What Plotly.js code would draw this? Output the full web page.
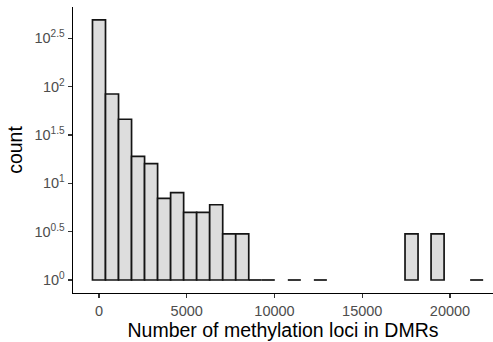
<!DOCTYPE html>
<html>
<head>
<meta charset="utf-8">
<script src="https://cdn.plot.ly/plotly-3.0.1.min.js"></script>
<style>html,body{margin:0;padding:0;background:#fff}#chart{width:493px;height:342px}</style>
</head>
<body>
<div id="chart"></div>
<script>
// Histogram: 30 bins, first bin centred on 0
var binStart = -371;
var binWidth = 742;
var counts = [489, 83, 45, 18, 15, 6, 7, 4, 4, 5, 2, 2, 1, 1, 0, 1, 0, 1, 0, 0, 0, 0, 0, 0, 2, 0, 2, 0, 0, 1];
var xTickVals = [0, 5000, 10000, 15000, 20000];
var xTickText = ["0", "5000", "10000", "15000", "20000"];
var yTickVals = [1, Math.pow(10, 0.5), 10, Math.pow(10, 1.5), 100, Math.pow(10, 2.5)];
var yTickText = ["10<sup>0</sup>", "10<sup>0.5</sup>", "10<sup>1</sup>", "10<sup>1.5</sup>", "10<sup>2</sup>", "10<sup>2.5</sup>"];

var centers = counts.map(function (c, i) { return binStart + binWidth * (i + 0.5); });
var barY = counts.map(function (c) { return c > 1 ? c : null; });

// count == 1 bins have zero height on log scale: draw as flat segments
var segX = [], segY = [];
counts.forEach(function (c, i) {
  if (c === 1) {
    segX.push(centers[i] - binWidth / 2, centers[i] + binWidth / 2, null);
    segY.push(1, 1, null);
  }
});

var font = "Liberation Sans, Arial, Helvetica, sans-serif";

var traces = [
  {
    type: "bar",
    x: centers,
    y: barY,
    base: 1,
    width: binWidth,
    marker: { color: "#DDDDDD", line: { color: "#141414", width: 1.7 } },
    hoverinfo: "x+y"
  },
  {
    type: "scatter",
    mode: "lines",
    x: segX,
    y: segY,
    line: { color: "#141414", width: 1.7 },
    hoverinfo: "skip",
    cliponaxis: false
  }
];

var layout = {
  width: 493,
  height: 342,
  margin: { l: 73, r: 0, t: 7, b: 49 },
  paper_bgcolor: "#ffffff",
  plot_bgcolor: "#ffffff",
  showlegend: false,
  bargap: 0,
  font: { family: font, color: "#4D4D4D", size: 14 },
  xaxis: {
    range: [-1481, 22450],
    showgrid: false,
    zeroline: false,
    showline: true,
    linecolor: "#000000",
    linewidth: 1.4,
    ticks: "outside",
    ticklen: 4,
    tickwidth: 1.3,
    tickcolor: "#333333",
    tickvals: xTickVals,
    ticktext: xTickText,
    tickfont: { family: font, size: 14.5, color: "#4D4D4D" },
    title: { text: "Number of methylation loci in DMRs", font: { family: font, size: 19.5, color: "#000000" }, standoff: 3 }
  },
  yaxis: {
    type: "log",
    range: [-0.1345, 2.824],
    showgrid: false,
    zeroline: false,
    showline: true,
    linecolor: "#000000",
    linewidth: 1.4,
    ticks: "outside",
    ticklen: 4,
    tickwidth: 1.3,
    tickcolor: "#333333",
    tickvals: yTickVals,
    ticktext: yTickText,
    tickfont: { family: font, size: 14.5, color: "#4D4D4D" },
    title: { text: "count", font: { family: font, size: 19.5, color: "#000000" }, standoff: 6 }
  }
};

Plotly.newPlot("chart", traces, layout, { displayModeBar: false, staticPlot: true });
</script>
</body>
</html>
